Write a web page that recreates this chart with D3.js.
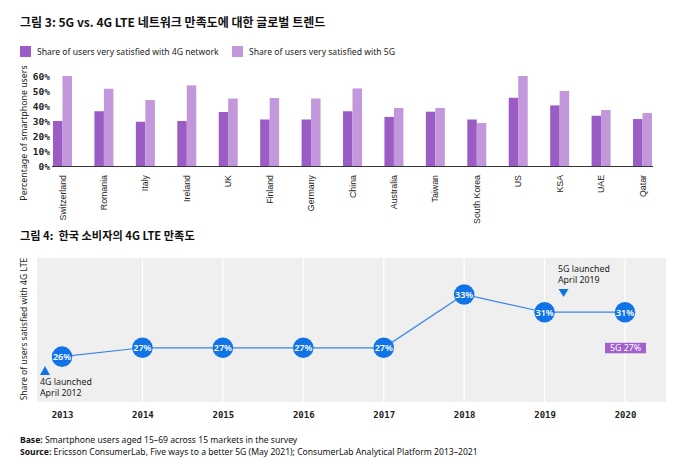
<!DOCTYPE html>
<html><head><meta charset="utf-8">
<script src="https://cdn.jsdelivr.net/npm/d3@7"></script>
<style>
body{margin:0;background:#fff;}
svg{display:block;font-family:"Noto Sans","Open Sans",sans-serif;}
</style></head>
<body><svg id="c" width="680" height="471"></svg>
<script>
// ---- Data: figure 3 ----
const countries = ["Switzerland","Romania","Italy","Ireland","UK","Finland","Germany","China","Australia","Taiwan","South Korea","US","KSA","UAE","Qatar"];
const sat4G = [30,36.5,29.5,30,36,31,31,36.5,32.7,36.2,31,45.5,40.4,33.5,31.3];
const sat5G = [60,51.5,44,53.8,45,45.3,45,51.7,38.7,38.7,28.7,60,50,37.3,35.3];
const barTicks = [0,10,20,30,40,50,60];
const seriesNames = ["Share of users very satisfied with 4G network","Share of users very satisfied with 5G"];
// ---- Data: figure 4 ----
const years = ["2013","2014","2015","2016","2017","2018","2019","2020"];
const koreaLTE = [26,27,27,27,27,33,31,31];
const korea5G = 27;

const C4 = "#9b5dc5", C5 = "#c397dc", BLUE = "#1174e6";
const svg = d3.select("#c");

// Titles
svg.append("text").attr("x",20).attr("y",27).attr("font-family","'Noto Sans CJK KR'").attr("font-weight",700)
  .attr("font-size",12).attr("fill","#111").text("그림 3: 5G vs. 4G LTE 네트워크 만족도에 대한 글로벌 트렌드");
svg.append("text").attr("x",20).attr("y",240).attr("font-family","'Noto Sans CJK KR'").attr("font-weight",700)
  .style("white-space","pre").attr("font-size",11.2).attr("fill","#111").text("그림 4:  한국 소비자의 4G LTE 만족도");

// Legend
const lg = svg.append("g");
[[20,C4],[232,C5]].forEach((d,i)=>{
  lg.append("rect").attr("x",d[0]).attr("y",46).attr("width",11).attr("height",11).attr("fill",d[1]);
  lg.append("text").attr("x",d[0]+17).attr("y",55).attr("font-size",8.6).attr("fill","#222").text(seriesNames[i]);
});

// Bar chart
const x = d3.scaleBand().domain(countries).range([53,652]).paddingInner(0.542).paddingOuter(0);
const y = d3.scaleLinear().domain([0,60]).range([166,76]);
const bw = x.bandwidth()/2;
const g1 = svg.append("g");
g1.selectAll(".b4").data(countries).join("rect").attr("x",d=>x(d)).attr("width",bw)
  .attr("y",(d,i)=>y(sat4G[i])).attr("height",(d,i)=>y(0)-y(sat4G[i])).attr("fill",C4);
g1.selectAll(".b5").data(countries).join("rect").attr("x",d=>x(d)+bw).attr("width",bw)
  .attr("y",(d,i)=>y(sat5G[i])).attr("height",(d,i)=>y(0)-y(sat5G[i])).attr("fill",C5);
// y axis labels
const ya = g1.append("g").attr("transform","translate(50,0)")
  .call(d3.axisLeft(y).tickValues(barTicks).tickSize(0).tickPadding(0).tickFormat(d=>d+"%"));
ya.select(".domain").remove();
ya.selectAll("text").attr("font-family","'DejaVu Sans Mono'").attr("font-weight",700).attr("font-size",9.5).attr("fill","#222");
// baseline
g1.append("line").attr("x1",52).attr("x2",653).attr("y1",y(0)+0.5).attr("y2",y(0)+0.5).attr("stroke","#333").attr("stroke-width",1.2);
// x axis
const xa = g1.append("g").attr("transform","translate(0,172)")
  .call(d3.axisBottom(x).tickSize(0).tickPadding(0));
xa.select(".domain").remove();
xa.selectAll("text").attr("transform","rotate(-90)").attr("text-anchor","end").attr("dx",0).attr("dy","0.35em")
  .attr("x",-3).attr("y",0).attr("font-size",8.8).attr("fill","#222");
svg.append("text").attr("transform","translate(27,133) rotate(-90)").attr("text-anchor","middle")
  .attr("font-size",8.8).attr("fill","#222").text("Percentage of smartphone users");

// Line chart
const bgX0 = 37, bgX1 = 666, bgY0 = 258, bgY1 = 402;
svg.append("rect").attr("x",bgX0).attr("y",bgY0).attr("width",bgX1-bgX0).attr("height",bgY1-bgY0).attr("fill","#efefef");
const xp = d3.scalePoint().domain(years).range([62,625]);
const yl = d3.scaleLinear().domain([20.9,37.1]).range([bgY1,bgY0]);
const g2 = svg.append("g");
g2.selectAll(".grid").data(years.slice(1)).join("line").attr("x1",d=>xp(d)).attr("x2",d=>xp(d))
  .attr("y1",bgY0).attr("y2",bgY1).attr("stroke","#fff").attr("stroke-width",1.2);
g2.append("path").datum(koreaLTE).attr("fill","none").attr("stroke","#3a86e8").attr("stroke-width",1.2)
  .attr("d",d3.line().x((d,i)=>xp(years[i])).y(d=>yl(d)));
g2.selectAll(".dot").data(koreaLTE).join("circle").attr("cx",(d,i)=>xp(years[i])).attr("cy",d=>yl(d))
  .attr("r",10.3).attr("fill",BLUE);
g2.selectAll(".lbl").data(koreaLTE).join("text").attr("x",(d,i)=>xp(years[i])).attr("y",d=>yl(d)+3.3)
  .attr("text-anchor","middle").attr("font-size",9).attr("font-weight",600).attr("fill","#fff").text(d=>d+"%");
// year axis
const xa2 = g2.append("g").attr("transform","translate(0,418)")
  .call(d3.axisBottom(xp).tickSize(0).tickPadding(0));
xa2.select(".domain").remove();
xa2.selectAll("text").attr("dy",0).attr("font-family","'DejaVu Sans Mono'").attr("font-weight",700).attr("font-size",9).attr("fill","#222");
svg.append("text").attr("transform","translate(27,329) rotate(-90)").attr("text-anchor","middle")
  .attr("font-size",8.6).attr("fill","#222").text("Share of users satisfied with 4G LTE");

// Annotations
const triX4 = xp("2013") - 17, triX5 = xp("2019") + 19;
g2.append("path").attr("d",`M${triX4-5},${375}L${triX4+5},${375}L${triX4},${366}Z`).attr("fill",BLUE);
g2.append("text").attr("x",40).attr("y",385).attr("font-size",8.8).attr("fill","#222").text("4G launched");
g2.append("text").attr("x",40).attr("y",396).attr("font-size",8.8).attr("fill","#222").text("April 2012");
g2.append("path").attr("d",`M${triX5-5},${289}L${triX5+5},${289}L${triX5},${297}Z`).attr("fill",BLUE);
g2.append("text").attr("x",558).attr("y",272).attr("font-size",8.8).attr("fill","#222").text("5G launched");
g2.append("text").attr("x",558).attr("y",283).attr("font-size",8.8).attr("fill","#222").text("April 2019");
const bx = xp("2020");
g2.append("rect").attr("x",bx-20).attr("y",yl(korea5G)-5).attr("width",41).attr("height",10.5).attr("fill","#a35fcc");
g2.append("text").attr("x",bx+0.5).attr("y",yl(korea5G)+3.3).attr("text-anchor","middle").attr("font-size",8.8)
  .attr("fill","#fff").text("5G "+korea5G+"%");

// Footer
const f = svg.append("g").attr("font-size",8.6).attr("fill","#111");
const t1 = f.append("text").attr("x",20).attr("y",443);
t1.append("tspan").attr("font-weight",700).text("Base:");
t1.append("tspan").text(" Smartphone users aged 15–69 across 15 markets in the survey");
const t2 = f.append("text").attr("x",20).attr("y",455);
t2.append("tspan").attr("font-weight",700).text("Source:");
t2.append("tspan").text(" Ericsson ConsumerLab, Five ways to a better 5G (May 2021); ConsumerLab Analytical Platform 2013–2021");
</script></body></html>
